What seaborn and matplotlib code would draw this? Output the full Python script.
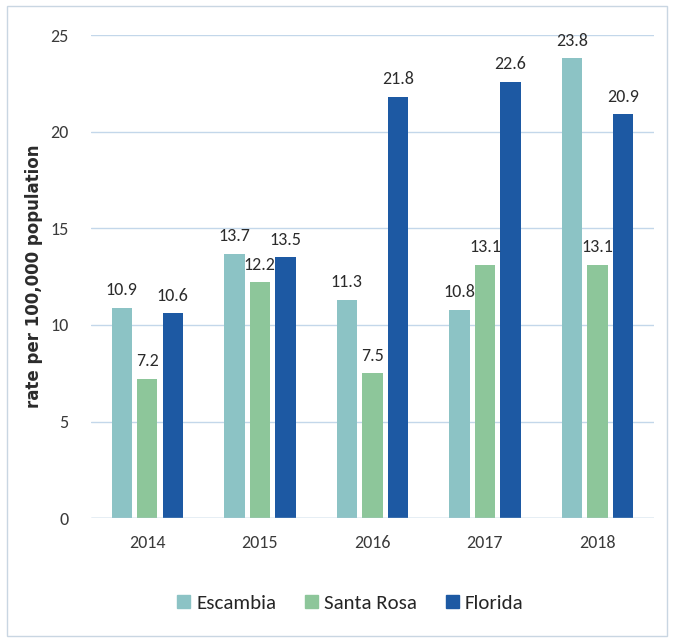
import pandas as pd
import matplotlib.pyplot as plt
import seaborn as sns
from matplotlib.patches import Rectangle

years = ['2014', '2015', '2016', '2017', '2018']
escambia = [10.9, 13.7, 11.3, 10.8, 23.8]
santa_rosa = [7.2, 12.2, 7.5, 13.1, 13.1]
florida = [10.6, 13.5, 21.8, 22.6, 20.9]
regions = ['Escambia', 'Santa Rosa', 'Florida']
colors = ['#8cc3c5', '#8dc69a', '#1d59a3']

df = pd.DataFrame({
    'year': years * 3,
    'region': [r for r in regions for _ in years],
    'rate': escambia + santa_rosa + florida,
})

sns.set_style('white')
narrow = ['Carlito', 'DejaVu Sans']

fig = plt.figure(figsize=(6.74, 6.42), dpi=100)
ax = fig.add_axes([0.135, 0.193, 0.835, 0.752])

sns.barplot(data=df, x='year', y='rate', hue='region', palette=colors,
            saturation=1, width=0.68, gap=0.2, linewidth=0, ax=ax, legend=False)

# etiquetas de valores
for cont in ax.containers:
    ax.bar_label(cont, fmt='%.1f', padding=7, fontsize=13, family=narrow, color='#2b2b2b')

ax.set_ylim(0, 25)
ax.set_yticks(range(0, 26, 5))
ax.yaxis.grid(True, color='#c3d7ea', linewidth=1)
ax.set_axisbelow(True)
for s in ax.spines.values():
    s.set_visible(False)
ax.axhline(0, color='#b5cbe0', linewidth=1)
ax.tick_params(length=0)
ax.tick_params(axis='y', pad=16)
ax.tick_params(axis='x', pad=12)
for lab in ax.get_xticklabels() + ax.get_yticklabels():
    lab.set_family(narrow)
    lab.set_fontsize(13)
    lab.set_color('#3a3a3a')
ax.set_xlabel('')
ax.set_ylabel('rate per 100,000 population', fontsize=12, fontweight='bold',
              family='DejaVu Sans', color='#2b2b2b', labelpad=5)

handles = [Rectangle((0, 0), 1, 1, color=c) for c in colors]
fig.legend(handles, regions, loc='center', bbox_to_anchor=(0.52, 0.06), ncol=3,
           frameon=False, handlelength=0.6, handleheight=0.6, handletextpad=0.3,
           columnspacing=1.4, prop={'family': narrow, 'size': 15})

fig.patches.append(Rectangle((0.01, 0.01), 0.98, 0.98, transform=fig.transFigure,
                             fill=False, edgecolor='#c9d6e2', linewidth=1))

fig.savefig('out.png', dpi=100)
